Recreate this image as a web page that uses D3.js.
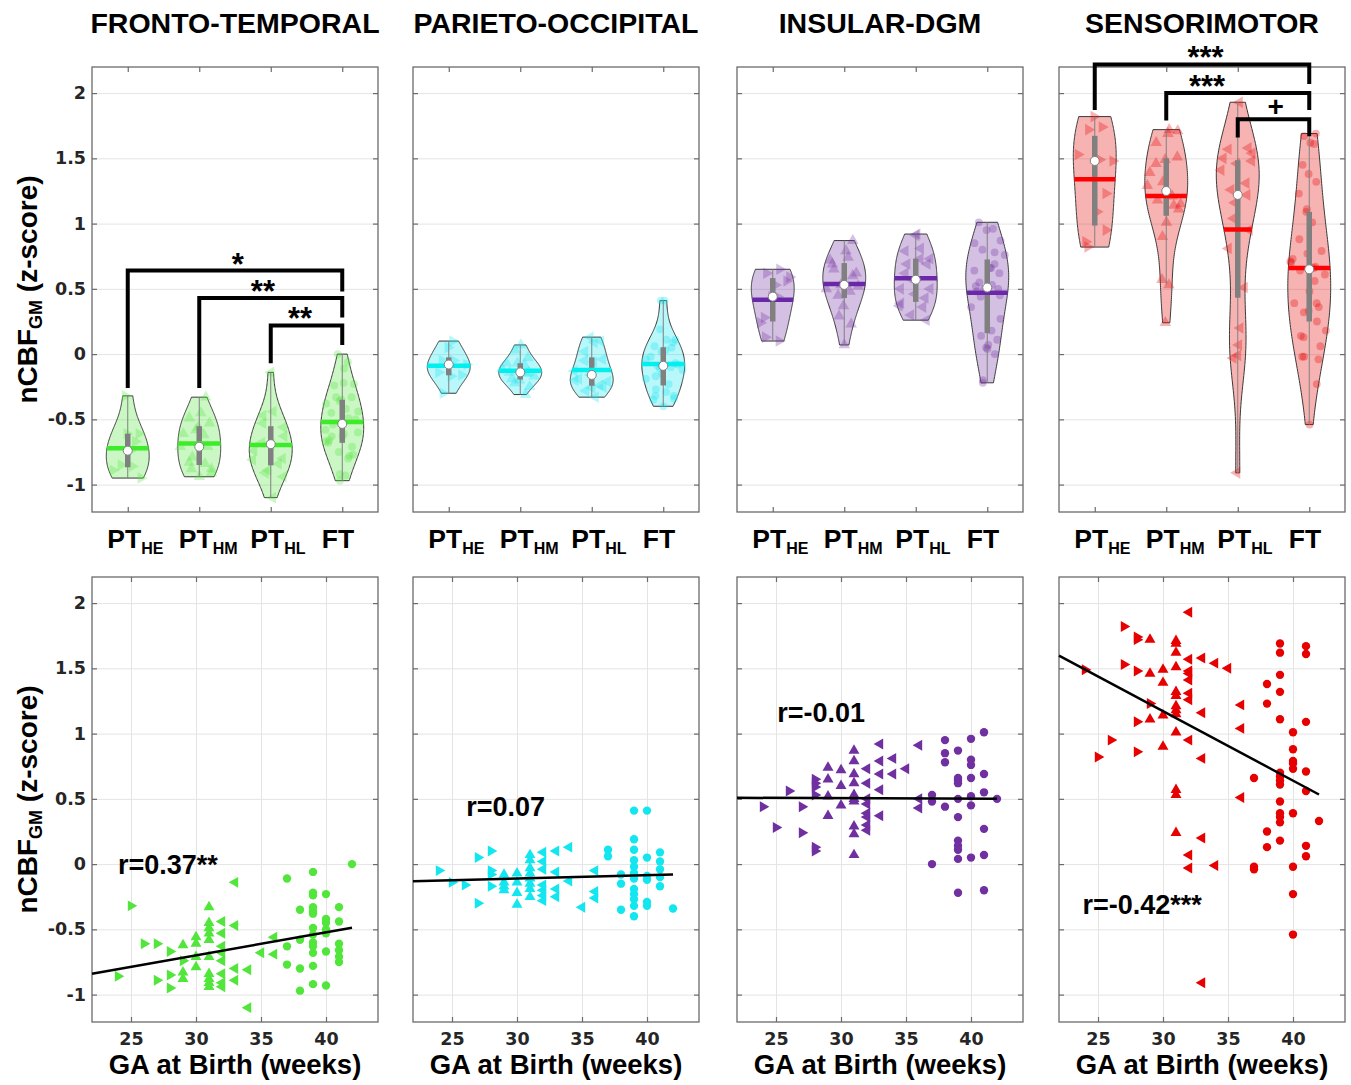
<!DOCTYPE html>
<html>
<head>
<meta charset="utf-8">
<script src="https://cdn.jsdelivr.net/npm/d3@7"></script>
<style>
  body { margin: 0; background: #fff; }
  svg text { font-family: "Liberation Sans", Arial, sans-serif; font-weight: bold; fill: #000; }
  .axis text { font-family: "DejaVu Sans", sans-serif; font-size: 17.5px; fill: #262626; }
  .axis line { stroke: #6b6b6b; stroke-width: 1.2; }
  .grid line { stroke: #e4e4e4; stroke-width: 1; }
  .grid path, .axis path { display: none; }
</style>
</head>
<body>
<svg width="1351" height="1085"></svg>
<script>
// ---------- data ----------
var regionNames = ["FRONTO-TEMPORAL", "PARIETO-OCCIPITAL", "INSULAR-DGM", "SENSORIMOTOR"];
var catMain = ["PT", "PT", "PT", "FT"];
var catSub = ["HE", "HM", "HL", ""];
var yTicks = [-1, -0.5, 0, 0.5, 1, 1.5, 2];
var gaTicks = [25, 30, 35, 40];

// [GA at birth (weeks), nCBF z-score]
var ftHE = [[24,-0.86],[25,-0.32],[26,-0.61],[27,-0.61],[27,-0.89],[28,-0.67],[28,-0.85],[28,-0.95],[29,-0.74]];
var ftHM = [[29,-0.62],[29,-0.83],[29,-0.88],[30,-0.56],[30,-0.61],[30,-0.71],[30,-0.79],[31,-0.33],[31,-0.45],[31,-0.49],[31,-0.53],[31,-0.58],[31,-0.71],[31,-0.84],[31,-0.88],[31,-0.91],[31,-0.94]];
var ftHL = [[32,-0.44],[32,-0.53],[32,-0.63],[32,-0.68],[32,-0.74],[32,-0.84],[32,-0.91],[32,-0.94],[33,-0.14],[33,-0.47],[33,-0.80],[33,-0.89],[34,-0.81],[34,-1.10],[35,-0.68],[36,-0.56],[36,-0.69]];
var ftFT = [[37,-0.11],[37,-0.63],[37,-0.77],[38,-0.35],[38,-0.58],[38,-0.80],[38,-0.97],[39,-0.06],[39,-0.22],[39,-0.24],[39,-0.33],[39,-0.36],[39,-0.38],[39,-0.49],[39,-0.54],[39,-0.60],[39,-0.63],[39,-0.68],[39,-0.78],[39,-0.92],[40,-0.23],[40,-0.42],[40,-0.45],[40,-0.50],[40,-0.53],[40,-0.67],[40,-0.93],[41,-0.33],[41,-0.44],[41,-0.61],[41,-0.66],[41,-0.71],[41,-0.75],[42,0.00]];

var poHE = [[24,-0.05],[25,-0.14],[26,-0.16],[27,0.05],[27,-0.30],[28,0.10],[28,-0.05],[28,-0.08],[28,-0.17]];
var poHM = [[29,-0.08],[29,-0.14],[29,-0.17],[29,-0.20],[30,-0.07],[30,-0.14],[30,-0.22],[30,-0.31],[31,0.07],[31,0.03],[31,-0.03],[31,-0.07],[31,-0.11],[31,-0.15],[31,-0.19],[31,-0.25]];
var poHL = [[32,0.09],[32,0.02],[32,-0.04],[32,-0.16],[32,-0.20],[32,-0.24],[32,-0.28],[33,0.10],[33,-0.06],[33,-0.19],[33,-0.25],[34,0.13],[34,-0.13],[35,-0.33],[36,-0.05],[36,-0.21],[36,-0.26]];
var poFT = [[37,0.11],[37,0.06],[38,-0.08],[38,-0.15],[38,-0.35],[39,0.41],[39,0.19],[39,0.11],[39,0.03],[39,-0.02],[39,-0.07],[39,-0.11],[39,-0.19],[39,-0.23],[39,-0.27],[39,-0.32],[39,-0.40],[40,0.41],[40,0.05],[40,-0.09],[40,-0.12],[40,-0.29],[40,-0.32],[41,0.09],[41,0.02],[41,-0.04],[41,-0.10],[41,-0.17],[42,-0.34]];

var idHE = [[24,0.44],[25,0.28],[26,0.56],[27,0.44],[27,0.24],[28,0.65],[28,0.62],[28,0.59],[28,0.53],[28,0.13],[28,0.10]];
var idHM = [[29,0.74],[29,0.65],[29,0.52],[29,0.37],[30,0.72],[30,0.60],[30,0.45],[31,0.87],[31,0.79],[31,0.69],[31,0.62],[31,0.53],[31,0.50],[31,0.48],[31,0.29],[31,0.23],[31,0.07]];
var idHL = [[32,0.73],[32,0.62],[32,0.50],[32,0.46],[32,0.39],[32,0.36],[32,0.30],[32,0.26],[33,0.92],[33,0.79],[33,0.69],[33,0.57],[33,0.37],[34,0.81],[34,0.69],[35,0.73],[36,0.91],[36,0.50],[36,0.43]];
var idFT = [[37,0.53],[37,0.48],[37,0.00],[38,0.95],[38,0.85],[38,0.78],[38,0.44],[39,0.87],[39,0.66],[39,0.64],[39,0.62],[39,0.50],[39,0.36],[39,0.18],[39,0.14],[39,0.11],[39,0.04],[39,-0.22],[40,0.96],[40,0.80],[40,0.76],[40,0.66],[40,0.52],[40,0.45],[40,0.05],[41,1.01],[41,0.69],[41,0.55],[41,0.27],[41,0.07],[41,-0.20],[42,0.50]];

var smHE = [[24,1.49],[25,0.82],[26,0.95],[27,1.82],[27,1.53],[28,1.74],[28,1.72],[28,1.48],[28,1.09],[28,0.86],[29,1.23]];
var smHM = [[29,1.72],[29,1.46],[29,1.11],[30,1.49],[30,1.39],[30,1.14],[30,0.90],[31,1.71],[31,1.69],[31,1.62],[31,1.51],[31,1.32],[31,1.29],[31,1.21],[31,1.18],[31,1.15],[31,1.01],[31,0.57],[31,0.53],[31,0.24]];
var smHL = [[32,1.93],[32,1.57],[32,1.48],[32,1.46],[32,1.41],[32,1.31],[32,1.26],[32,0.95],[32,0.07],[32,-0.03],[33,1.58],[33,1.16],[33,0.81],[33,0.20],[33,-0.91],[34,1.54],[34,-0.01],[35,1.50],[36,1.22],[36,1.04],[36,0.51]];
var smFT = [[37,0.66],[37,-0.02],[37,-0.04],[38,1.38],[38,1.23],[38,0.25],[38,0.13],[39,1.69],[39,1.62],[39,1.45],[39,1.32],[39,1.11],[39,0.70],[39,0.67],[39,0.64],[39,0.61],[39,0.48],[39,0.39],[39,0.36],[39,0.32],[39,0.18],[40,1.01],[40,0.88],[40,0.79],[40,0.77],[40,0.73],[40,0.39],[40,-0.02],[40,-0.23],[40,-0.54],[41,1.67],[41,1.61],[41,1.09],[41,0.71],[41,0.56],[41,0.14],[41,0.06],[42,0.33]];

// correlation labels and where they sit (weeks, z-score)
var rLabels = ["r=0.37**", "r=0.07", "r=-0.01", "r=-0.42***"];
var rLabelGA = [24, 26.1, 25.1, 23.8];
var rLabelZ = [0, 0.44, 1.16, -0.31];

// significance brackets: [from group, to group, bar level, left leg end, right leg end]
var ftBrackets = [[1, 4, 0.64, -0.26, 0.48], [2, 4, 0.43, -0.26, 0.28], [3, 4, 0.22, -0.07, 0.07]];
var ftStars = ["*", "**", "**"];
var ftStarAt = [2.54, 2.89, 3.41];
var smBrackets = [[1, 4, 2.22, 1.87, 2.07], [2, 4, 2.0, 1.79, 1.87], [3, 4, 1.8, 1.66, 1.67]];
var smStars = ["***", "***", "+"];
var smStarAt = [2.55, 2.57, 3.53];

// ---------- look ----------
var pointColor = ["#52e63c", "#14e6f0", "#7030a0", "#e60000"];
var meanColor = ["#3cec28", "#00f0f0", "#6a28a8", "#ff0000"];
var shapes = ["right", "up", "left", "circle"];

var regionData = [[ftHE, ftHM, ftHL, ftFT], [poHE, poHM, poHL, poFT], [idHE, idHM, idHL, idFT], [smHE, smHM, smHL, smFT]];
var bracketData = [[ftBrackets, ftStars, ftStarAt], null, null, [smBrackets, smStars, smStarAt]];

var svg = d3.select("svg");
var colLeft = [92, 413, 737, 1059], colW = 286;
var rowTop = [67, 577], rowH = 445;

function marker(g, shape, size) {
  var type = shape === "circle" ? d3.symbolCircle : d3.symbolTriangle;
  g.attr("d", d3.symbol(type, size)());
  return shape === "right" ? " rotate(90)" : shape === "left" ? " rotate(-90)" : "";
}

function kde(vals) {
  var s = vals.slice().sort(d3.ascending), n = s.length;
  var med = d3.median(s);
  var sig = d3.median(s.map(function(v) { return Math.abs(v - med); })) / 0.6745;
  if (!sig) sig = d3.deviation(s) || 0.1;
  var bw = 1.1 * sig * Math.pow(4 / (3 * n), 0.2);
  var lo = s[0], hi = s[n - 1];
  var pts = d3.range(100).map(function(i) {
    var v = lo + (hi - lo) * i / 99;
    var t = d3.sum(s, function(xi) { var u = (v - xi) / bw; return Math.exp(-0.5 * u * u); });
    return { v: v, d: t };
  });
  var dmax = d3.max(pts, function(p) { return p.d; });
  pts.forEach(function(p) { p.w = 0.3 * p.d / dmax; });
  return pts;
}

function widthAt(pts, v) {
  var i = d3.bisector(function(p) { return p.v; }).left(pts, v);
  if (i <= 0) return pts[0].w;
  if (i >= pts.length) return pts[pts.length - 1].w;
  var a = pts[i - 1], b = pts[i], t = (v - a.v) / (b.v - a.v || 1);
  return a.w + t * (b.w - a.w);
}

function quant(s, p) {  // matlab-style quantile
  var n = s.length, h = n * p + 0.5;
  if (h <= 1) return s[0];
  if (h >= n) return s[n - 1];
  var lo = Math.floor(h);
  return s[lo - 1] + (h - lo) * (s[lo] - s[lo - 1]);
}

function drawFrame(g, x, y, xVals, xGrid, yLabels) {
  var x0 = x.range()[0], x1 = x.range()[1], yb = y.range()[0], yt = y.range()[1];
  g.append("g").attr("class", "grid").attr("transform", "translate(" + x0 + ",0)")
    .call(d3.axisLeft(y).tickValues(yTicks).tickSize(-(x1 - x0)).tickFormat(""));
  if (xGrid) {
    g.append("g").attr("class", "grid").attr("transform", "translate(0," + yb + ")")
      .call(d3.axisBottom(x).tickValues(xVals).tickSize(-(yb - yt)).tickFormat(""));
  }
  g.append("g").attr("class", "axis").attr("transform", "translate(" + x0 + ",0)")
    .call(d3.axisLeft(y).tickValues(yTicks).tickSize(-5).tickPadding(6)
      .tickFormat(yLabels ? function(d) { return String(d); } : ""));
  g.append("g").attr("class", "axis").attr("transform", "translate(" + x1 + ",0)")
    .call(d3.axisRight(y).tickValues(yTicks).tickSize(-5).tickFormat(""));
  g.append("g").attr("class", "axis").attr("transform", "translate(0," + yt + ")")
    .call(d3.axisTop(x).tickValues(xVals).tickSize(-5).tickFormat(""));
  var bottom = g.append("g").attr("class", "axis").attr("transform", "translate(0," + yb + ")")
    .call(d3.axisBottom(x).tickValues(xVals).tickSize(-5));
  g.append("rect").attr("x", x0).attr("y", yt).attr("width", x1 - x0).attr("height", yb - yt)
    .attr("fill", "none").attr("stroke", "#6b6b6b").attr("stroke-width", 1.3);
  return bottom;
}

regionNames.forEach(function(name, r) {
  var groups = regionData[r];
  var left = colLeft[r];
  var cx = left + colW / 2;

  svg.append("text").attr("x", cx).attr("y", 33).attr("text-anchor", "middle")
    .attr("font-size", 28.5).text(name);

  // ---------- violins ----------
  var xCat = d3.scaleLinear().domain([0.5, 4.5]).range([left, left + colW]);
  var yTop = d3.scaleLinear().domain([-1.21, 2.2]).range([rowTop[0] + rowH, rowTop[0]]);
  var gTop = svg.append("g");
  var bAxis = drawFrame(gTop, xCat, yTop, [1, 2, 3, 4], false, r === 0);
  bAxis.selectAll(".tick text").each(function(c) {
    var t = d3.select(this).text("").attr("x", -21).attr("y", 36).attr("dy", 0)
      .attr("text-anchor", "start")
      .style("font-family", '"Liberation Sans", Arial, sans-serif')
      .style("font-size", "26.5px").style("fill", "#000");
    t.append("tspan").text(catMain[c - 1]);
    if (catSub[c - 1]) t.append("tspan").attr("dy", 6).style("font-size", "16px").text(catSub[c - 1]);
  });

  var marks = gTop.append("g");
  groups.forEach(function(grp, gi) {
    var c = gi + 1;
    var vals = grp.map(function(d) { return d[1]; });
    var s = vals.slice().sort(d3.ascending);
    var pts = kde(vals);
    var area = d3.area()
      .x0(function(p) { return xCat(c - p.w); })
      .x1(function(p) { return xCat(c + p.w); })
      .y(function(p) { return yTop(p.v); });
    marks.append("path").datum(pts).attr("d", area)
      .attr("fill", pointColor[r]).attr("fill-opacity", 0.3)
      .attr("stroke", "#3a3a3a").attr("stroke-width", 1);

    grp.forEach(function(d, i) {
      var j = (((i + 1) * 0.6180339887) % 1) * 2 - 1;
      var px = xCat(c + j * widthAt(pts, d[1]) * 0.95), py = yTop(d[1]);
      var p = marks.append("path");
      var rot = marker(p, shapes[gi], shapes[gi] === "circle" ? 48 : 58);
      p.attr("transform", "translate(" + px + "," + py + ")" + rot)
        .attr("fill", pointColor[r]).attr("fill-opacity", 0.3);
    });

    var q1 = quant(s, 0.25), q2 = quant(s, 0.5), q3 = quant(s, 0.75), iqr = q3 - q1;
    var lowW = d3.min(s.filter(function(v) { return v >= q1 - 1.5 * iqr; }));
    var hiW = d3.max(s.filter(function(v) { return v <= q3 + 1.5 * iqr; }));
    marks.append("line").attr("x1", xCat(c)).attr("x2", xCat(c))
      .attr("y1", yTop(lowW)).attr("y2", yTop(hiW)).attr("stroke", "#808080").attr("stroke-width", 1);
    marks.append("line").attr("x1", xCat(c)).attr("x2", xCat(c))
      .attr("y1", yTop(q1)).attr("y2", yTop(q3)).attr("stroke", "#808080").attr("stroke-width", 5.5);
    var mean = d3.mean(vals), mw = widthAt(pts, mean);
    marks.append("line").attr("x1", xCat(c - mw)).attr("x2", xCat(c + mw))
      .attr("y1", yTop(mean)).attr("y2", yTop(mean)).attr("stroke", meanColor[r]).attr("stroke-width", 4.5);
    marks.append("circle").attr("cx", xCat(c)).attr("cy", yTop(q2)).attr("r", 4.5)
      .attr("fill", "#fff").attr("stroke", "#808080").attr("stroke-width", 1);
  });

  if (bracketData[r]) {
    var br = bracketData[r];
    br[0].forEach(function(b, k) {
      gTop.append("path")
        .attr("d", "M" + xCat(b[0]) + "," + yTop(b[3]) + "V" + yTop(b[2]) + "H" + xCat(b[1]) + "V" + yTop(b[4]))
        .attr("fill", "none").attr("stroke", "#000").attr("stroke-width", 4);
      var plus = br[1][k] === "+";
      gTop.append("text").attr("x", xCat(br[2][k])).attr("y", yTop(b[2]) + (plus ? -3 : 4))
        .attr("text-anchor", "middle").attr("font-size", plus ? 28 : 31).text(br[1][k]);
    });
  }

  // ---------- scatter vs GA ----------
  var xGA = d3.scaleLinear().domain([22, 44]).range([left, left + colW]);
  var yBot = d3.scaleLinear().domain([-1.21, 2.2]).range([rowTop[1] + rowH, rowTop[1]]);
  var gBot = svg.append("g");
  var gaAxis = drawFrame(gBot, xGA, yBot, gaTicks, true, r === 0);
  gaAxis.selectAll(".tick text").attr("y", 23).attr("dy", 0);

  var all = [].concat.apply([], groups);
  var mx = d3.mean(all, function(d) { return d[0]; }), my = d3.mean(all, function(d) { return d[1]; });
  var slope = d3.sum(all, function(d) { return (d[0] - mx) * (d[1] - my); }) /
              d3.sum(all, function(d) { return (d[0] - mx) * (d[0] - mx); });
  var icpt = my - slope * mx;

  var sc = gBot.append("g");
  groups.forEach(function(grp, gi) {
    grp.forEach(function(d) {
      var p = sc.append("path");
      var rot = marker(p, shapes[gi], shapes[gi] === "circle" ? 55 : 52);
      p.attr("transform", "translate(" + xGA(d[0]) + "," + yBot(d[1]) + ")" + rot)
        .attr("fill", pointColor[r]);
    });
  });
  gBot.append("line").attr("x1", xGA(22)).attr("x2", xGA(42))
    .attr("y1", yBot(icpt + slope * 22)).attr("y2", yBot(icpt + slope * 42))
    .attr("stroke", "#000").attr("stroke-width", 2.5);

  gBot.append("text").attr("x", xGA(rLabelGA[r])).attr("y", yBot(rLabelZ[r])).attr("dy", "0.35em")
    .attr("font-size", 27).text(rLabels[r]);

  svg.append("text").attr("x", cx).attr("y", 1074).attr("text-anchor", "middle")
    .attr("font-size", 27.5).text("GA at Birth (weeks)");
});

// y labels on the left column
[0, 1].forEach(function(row) {
  var t = svg.append("text")
    .attr("transform", "translate(37," + (rowTop[row] + rowH / 2) + ") rotate(-90)")
    .attr("text-anchor", "middle").attr("font-size", 28);
  t.append("tspan").text("nCBF");
  t.append("tspan").attr("dy", 5).attr("font-size", 18).text("GM");
  t.append("tspan").attr("dy", -5).text(" (z-score)");
});
</script>
</body>
</html>
